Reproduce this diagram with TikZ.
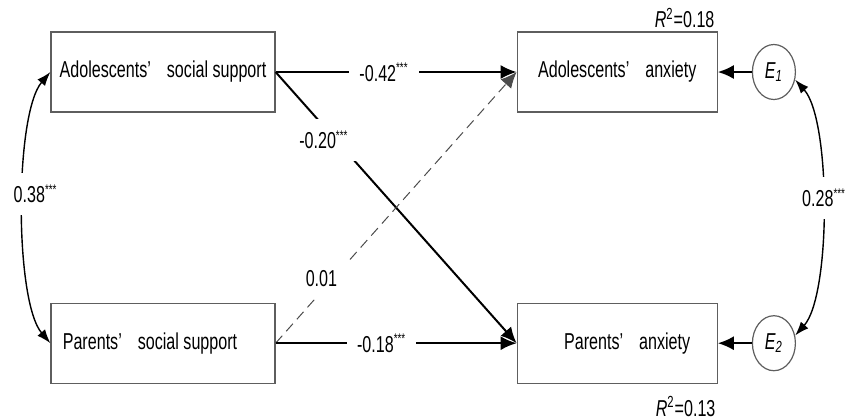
\documentclass[tikz,border=0pt]{standalone}
\usepackage{fontspec}
\setmainfont{Liberation Sans}[FakeStretch=0.7]
\usepackage{tikz}
\usetikzlibrary{arrows.meta, positioning, shapes.geometric}
\definecolor{semGray}{HTML}{5E5E5E}
\newcommand{\sigstars}{\textsuperscript{\scriptsize ***}}
\newcommand{\apos}{’\hspace{8pt}}

\begin{document}
\begin{tikzpicture}[
    x=0.5pt, y=-0.5pt,
    varbox/.style={rectangle, draw=semGray, fill=white, line width=0.6pt,
                 minimum width=112pt, minimum height=40pt,
                 font=\fontsize{11.5}{13}\selectfont},
    anxbox/.style={rectangle, draw=semGray, fill=white, line width=0.6pt,
                 minimum width=100pt, minimum height=40pt,
                 font=\fontsize{11.5}{13}\selectfont},
    errc/.style={ellipse, draw=semGray, fill=white, line width=0.6pt,
                 minimum width=21.5pt, minimum height=27.5pt, inner sep=0pt,
                 font=\fontsize{11.5}{13}\selectfont},
    coef/.style={fill=white, inner xsep=5pt, inner ysep=6pt,
                 font=\fontsize{11.5}{13}\selectfont},
    link/.style={-{Latex[length=8pt, width=7pt]}, line width=1pt},
    nslink/.style={-{Latex[length=8pt, width=7pt]}, line width=0.5pt,
                 dash pattern=on 5pt off 3pt, draw=black!70},
    covar/.style={{Latex[length=7pt, width=5pt]}-{Latex[length=7pt, width=5pt]},
                 line width=0.7pt},
  ]
    \useasboundingbox (0,0) rectangle (854,419);

    \node[varbox] (ssa) at (163,72) {Adolescents\apos social support};
    \node[varbox, below=95pt of ssa] (ssp) {Parents\apos social support\kern13pt};
    \node[anxbox, right=120.5pt of ssa] (anxa) {Adolescents\apos anxiety};
    \node[anxbox, below=95pt of anxa] (anxp) {\hspace{10pt}Parents\apos anxiety};
    \node[errc, right=17pt of anxa] (e1) {\textit{E}\textsubscript{\textit{1}}};
    \node[errc, right=17pt of anxp] (e2) {\textit{E}\textsubscript{\textit{2}}};

    \node[anchor=south east, inner sep=1.5pt, font=\fontsize{11.5}{13}\selectfont]
      (r2a) at (anxa.north east) {\textit{R}\textsuperscript{2}=0.18};
    \node[anchor=north east, inner sep=1pt, yshift=-5pt, font=\fontsize{11.5}{13}\selectfont]
      (r2p) at (anxp.south east) {\textit{R}\textsuperscript{2}=0.13};

    % paths
    \draw[link] (ssa.east) -- node[coef, pos=0.45] {-0.42\sigstars} (anxa.west);
    \draw[link] (ssa.east) -- node[coef, pos=0.25, xshift=-6pt] {-0.20\sigstars} (anxp.west);
    \draw[nslink] (ssp.east) -- node[coef, pos=0.24, xshift=-6pt] {0.01} (anxa.west);
    \draw[link] (ssp.east) -- node[coef, pos=0.44] {-0.18\sigstars} (anxp.west);
    \draw[link] (e1) -- (anxa);
    \draw[link] (e2) -- (anxp);

    % covariances
    \draw[covar] (ssa.west) .. controls +(-36,42) and +(-36,-42) ..
      node[coef, pos=0.46, xshift=6pt] {0.38\sigstars} (ssp.west);
    \draw[covar] (e1.-20) .. controls +(36,40) and +(36,-40) ..
      node[coef, pos=0.47, xshift=1pt] {0.28\sigstars} (e2.20);
\end{tikzpicture}
\end{document}
